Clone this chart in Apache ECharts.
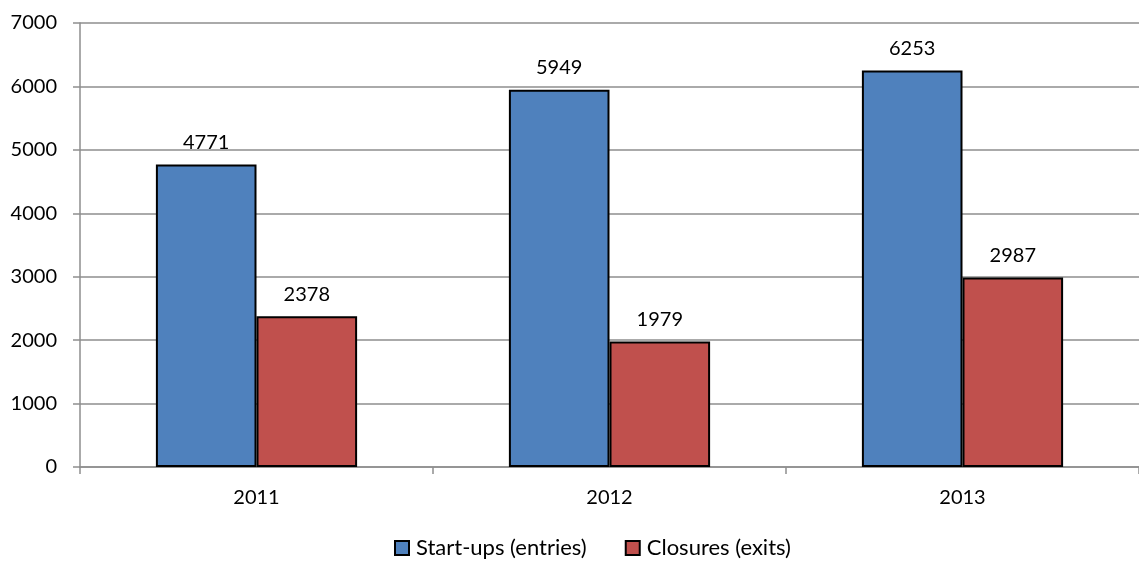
<!DOCTYPE html>
<html>
<head>
<meta charset="utf-8">
<script src="https://cdn.jsdelivr.net/npm/echarts@6/dist/echarts.min.js"></script>
<style>
  html, body { margin: 0; padding: 0; background: #fff; }
  #chart { width: 1139px; height: 564px; }
</style>
</head>
<body>
<div id="chart"></div>
<script>
// Firm start-ups and closures per year
const years = ['2011', '2012', '2013'];
const startups = [4771, 5949, 6253];
const closures = [2378, 1979, 2987];
const seriesNames = ['Start-ups (entries)', 'Closures (exits)'];

const font = 'Lato, "Open Sans", sans-serif';
const gridColor = '#8e8e8e';

const chart = echarts.init(document.getElementById('chart'), null, { renderer: 'canvas' });

const barStyle = (color) => ({ color: color, borderColor: '#000', borderWidth: 2 });
const labelStyle = {
  show: true,
  position: 'top',
  distance: 12,
  color: '#000',
  fontFamily: font,
  fontSize: 20
};

chart.setOption({
  animation: false,
  grid: { left: 80, right: -5, top: 23, bottom: 97 },
  legend: {
    bottom: 0,
    left: 389,
    itemWidth: 14,
    itemHeight: 14,
    itemGap: 38,
    icon: 'rect',
    textStyle: { fontFamily: font, fontSize: 22, color: '#000', padding: [0, 0, 0, 2] },
    data: seriesNames
  },
  xAxis: {
    type: 'category',
    data: years,
    axisLine: { lineStyle: { color: gridColor, width: 1.5 } },
    axisTick: { show: true, length: 7, lineStyle: { color: gridColor, width: 1.5 } },
    axisLabel: { margin: 21, color: '#000', fontFamily: font, fontSize: 20 }
  },
  yAxis: {
    type: 'value',
    min: 0,
    max: 7000,
    interval: 1000,
    axisLine: { show: true, lineStyle: { color: gridColor, width: 1.5 } },
    axisTick: { show: true, length: 7, lineStyle: { color: gridColor, width: 1.5 } },
    splitLine: { lineStyle: { color: gridColor, width: 1.5 } },
    axisLabel: {
      margin: 23,
      color: '#000',
      fontFamily: font,
      fontSize: 20,
      formatter: (v) => String(v)
    }
  },
  series: [
    {
      name: seriesNames[0],
      type: 'bar',
      data: startups,
      barGap: '0%',
      barCategoryGap: '43%',
      itemStyle: barStyle('#4f81bd'),
      label: labelStyle
    },
    {
      name: seriesNames[1],
      type: 'bar',
      data: closures,
      itemStyle: barStyle('#c0504d'),
      label: labelStyle
    }
  ]
});
</script>
</body>
</html>
